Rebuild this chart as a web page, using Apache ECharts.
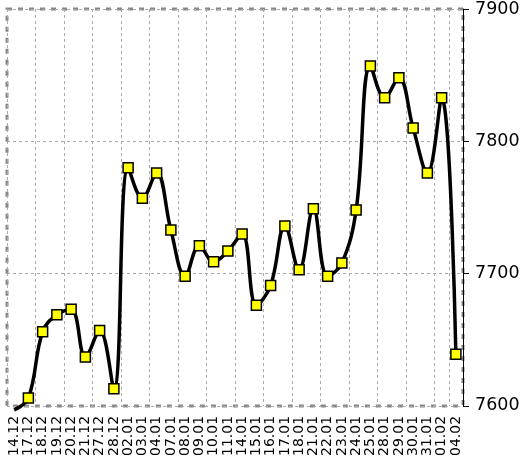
<!DOCTYPE html>
<html>
<head>
<meta charset="utf-8">
<script src="https://cdn.jsdelivr.net/npm/echarts@6/dist/echarts.min.js"></script>
<style>
  html, body { margin: 0; padding: 0; background: #fff; }
  #chart { width: 527px; height: 459px; }
</style>
</head>
<body>
<div id="chart"></div>
<script>
const dates = [
  "14.12", "17.12", "18.12", "19.12", "20.12", "21.12", "27.12", "28.12",
  "02.01", "03.01", "04.01", "07.01", "08.01", "09.01", "10.01", "11.01",
  "14.01", "15.01", "16.01", "17.01", "18.01", "21.01", "22.01", "23.01",
  "24.01", "25.01", "28.01", "29.01", "30.01", "31.01", "01.02", "04.02"
];
const prices = [
  7597, 7606, 7656, 7669, 7673, 7637, 7657, 7613,
  7780, 7757, 7776, 7733, 7698, 7721, 7709, 7717,
  7730, 7676, 7691, 7736, 7703, 7749, 7698, 7708,
  7748, 7857, 7833, 7848, 7810, 7776, 7833, 7639
];
const yMin = 7600;
const yMax = 7900;
const yStep = 100;

// first point has no marker in the original
const seriesData = prices.map((v, i) => (i === 0 ? { value: v, symbol: "none" } : v));

const chart = echarts.init(document.getElementById("chart"));
chart.setOption({
  animation: false,
  textStyle: { fontFamily: "DejaVu Sans" },
  grid: {
    left: 7, right: 64, top: 8, bottom: 52,
    show: true,
    borderColor: "#888",
    borderWidth: 3,
    borderType: [5, 6]
  },
  xAxis: {
    type: "category",
    data: dates,
    boundaryGap: true,
    axisLine: { show: false },
    axisTick: { show: false },
    axisLabel: { interval: 0, rotate: 90, fontSize: 14, color: "#000", margin: 10 },
    splitLine: {
      show: true,
      interval: 1,
      lineStyle: { color: "#aaa", type: [3, 3], width: 1 }
    }
  },
  yAxis: {
    type: "value",
    position: "right",
    min: yMin,
    max: yMax,
    interval: yStep,
    axisLine: { show: true, lineStyle: { color: "#000", width: 1 } },
    axisTick: { show: true, length: 6, lineStyle: { color: "#000" } },
    axisLabel: { fontSize: 17.5, color: "#000", margin: 12, formatter: (v) => String(v) },
    splitLine: { show: true, lineStyle: { color: "#aaa", type: [3, 3], width: 1 } }
  },
  series: [{
    type: "line",
    data: seriesData,
    smooth: 0.4,
    clip: false,
    symbol: "rect",
    symbolSize: 10,
    lineStyle: { color: "#000", width: 3.5 },
    itemStyle: { color: "#ffff00", borderColor: "#000", borderWidth: 1.5 }
  }]
});
</script>
</body>
</html>
